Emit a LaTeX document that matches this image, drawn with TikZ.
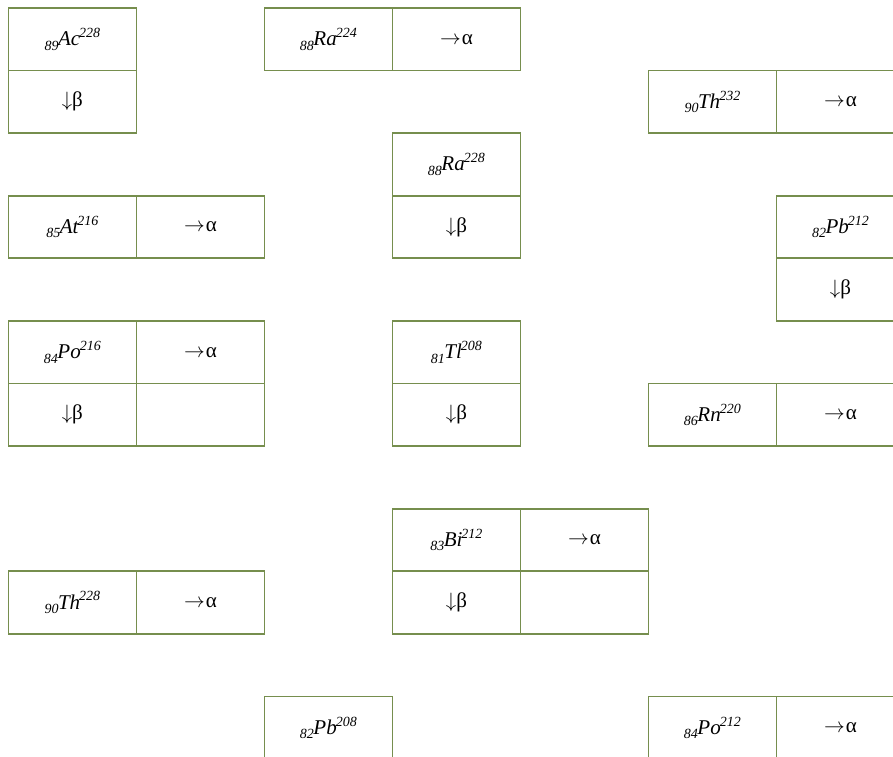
\documentclass[tikz,border=0pt]{standalone}
\usepackage{fontspec}
\setmainfont{Liberation Serif}
\definecolor{boxgreen}{RGB}{118,142,78}
\newcommand{\nuc}[3]{\itshape\raisebox{-0.45ex}{\fontsize{14}{14}\selectfont #1}\kern-0.5pt#2\kern-1pt\raisebox{0.85ex}{\fontsize{14}{14}\selectfont #3}}
\newcommand{\alf}{$\rightarrow$\kern1pt α}
\newcommand{\bet}{$\downarrow$β}
\tikzset{
  cell/.style={draw=boxgreen, line width=1.8pt, rectangle, anchor=north west,
    minimum width=128pt, minimum height=62.6pt, inner sep=0pt,
    font=\fontsize{21}{23}\selectfont, text=black}
}
\begin{document}
\begin{tikzpicture}[x=1pt,y=-1pt]
\useasboundingbox (0,0) rectangle (893,756);
\clip (0,0) rectangle (893,756);
% Ac228
\node[cell] (ac) at (7.5,7) {\nuc{89}{Ac}{228}};
\node[cell] (acb) at (7.5,69.6) {\bet};
% Ra224
\node[cell] (ra224) at (263.5,7) {\nuc{88}{Ra}{224}};
\node[cell] (ra224a) at (391.5,7) {\alf};
% Th232
\node[cell] (th232) at (647.5,69.6) {\nuc{90}{Th}{232}};
\node[cell] (th232a) at (775.5,69.6) {\alf};
% Ra228
\node[cell] (ra228) at (391.5,132.2) {\nuc{88}{Ra}{228}};
\node[cell] (ra228b) at (391.5,194.8) {\bet};
% At216
\node[cell] (at216) at (7.5,194.8) {\nuc{85}{At}{216}};
\node[cell] (at216a) at (135.5,194.8) {\alf};
% Pb212
\node[cell] (pb212) at (775.5,194.8) {\nuc{82}{Pb}{212}};
\node[cell] (pb212b) at (775.5,257.4) {\bet};
% Po216
\node[cell] (po216) at (7.5,320) {\nuc{84}{Po}{216}};
\node[cell] (po216a) at (135.5,320) {\alf};
\node[cell] (po216b) at (7.5,382.6) {\bet};
\node[cell] (po216e) at (135.5,382.6) {};
% Tl208
\node[cell] (tl208) at (391.5,320) {\nuc{81}{Tl}{208}};
\node[cell] (tl208b) at (391.5,382.6) {\bet};
% Rn220
\node[cell] (rn220) at (647.5,382.6) {\nuc{86}{Rn}{220}};
\node[cell] (rn220a) at (775.5,382.6) {\alf};
% Bi212
\node[cell] (bi212) at (391.5,507.8) {\nuc{83}{Bi}{212}};
\node[cell] (bi212a) at (519.5,507.8) {\alf};
\node[cell] (bi212b) at (391.5,570.4) {\bet};
\node[cell] (bi212e) at (519.5,570.4) {};
% Th228
\node[cell] (th228) at (7.5,570.4) {\nuc{90}{Th}{228}};
\node[cell] (th228a) at (135.5,570.4) {\alf};
% Pb208
\node[cell] (pb208) at (263.5,695.6) {\nuc{82}{Pb}{208}};
% Po212
\node[cell] (po212) at (647.5,695.6) {\nuc{84}{Po}{212}};
\node[cell] (po212a) at (775.5,695.6) {\alf};
\end{tikzpicture}
\end{document}
